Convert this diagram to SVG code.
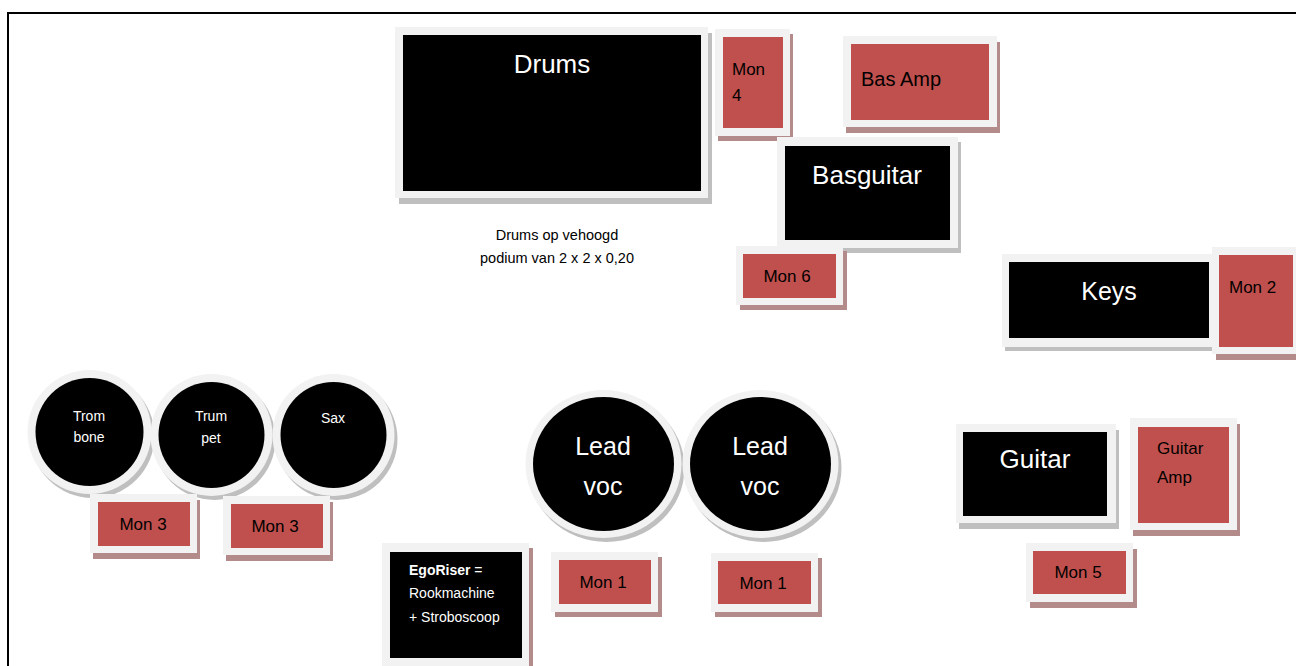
<svg xmlns="http://www.w3.org/2000/svg" width="1296" height="666" viewBox="0 0 1296 666">
<style>
.fr{fill:#f2f2f2}
.bk{fill:#000}
.rd{fill:#c0504d}
.sg{fill:#bfbfbf}
.sr{fill:#b38b8b}
text{font-family:"Liberation Sans",Arial,sans-serif}
.w{fill:#fff}
.k{fill:#000}
.c{text-anchor:middle}
</style>
<rect x="0" y="0" width="1296" height="666" fill="#fff"/>
<path d="M8,666 V13 H1296" fill="none" stroke="#000" stroke-width="2"/>
<g id="connectors"/>
<g id="drums">
<rect class="sg" x="399" y="33" width="313" height="171"/>
<rect class="fr" x="395" y="27" width="313" height="171"/>
<rect class="bk" x="403" y="35" width="298" height="156"/>
<text class="w c" x="552" y="73" font-size="26">Drums</text>
</g>
<g id="drums-note">
<text class="k c" x="557" y="240" font-size="14.5">Drums op vehoogd</text>
<text class="k c" x="557" y="263" font-size="14.5">podium van 2 x 2 x 0,20</text>
</g>
<g id="mon4">
<rect class="sr" x="718" y="34" width="75" height="107"/>
<rect class="fr" x="715" y="29" width="75" height="107"/>
<rect class="rd" x="723" y="37" width="60" height="91"/>
<text class="k" x="732" y="75" font-size="17">Mon</text>
<text class="k" x="732" y="101" font-size="17">4</text>
</g>
<g id="basamp">
<rect class="sr" x="846" y="42" width="154" height="91"/>
<rect class="fr" x="843" y="36" width="154" height="91"/>
<rect class="rd" x="851" y="44" width="138" height="76"/>
<text class="k" x="861" y="86" font-size="20">Bas Amp</text>
</g>
<g id="basguitar">
<rect class="sg" x="780" y="142" width="181" height="111"/>
<rect class="fr" x="777" y="137" width="181" height="111"/>
<rect class="bk" x="785" y="146" width="165" height="94"/>
<text class="w c" x="867" y="184" font-size="26">Basguitar</text>
</g>
<g id="mon6">
<rect class="sr" x="740" y="251" width="107" height="59"/>
<rect class="fr" x="736" y="246" width="107" height="59"/>
<rect class="rd" x="743" y="254" width="93" height="44"/>
<text class="k c" x="787" y="282" font-size="17">Mon 6</text>
</g>
<g id="keys">
<rect class="sg" x="1005" y="258" width="210" height="93"/>
<rect class="fr" x="1002" y="254" width="210" height="93"/>
<rect class="bk" x="1009" y="262" width="200" height="76"/>
<text class="w c" x="1109" y="300" font-size="25">Keys</text>
</g>
<g id="mon2">
<rect class="sr" x="1216" y="253" width="86" height="107"/>
<rect class="fr" x="1212" y="247" width="86" height="107"/>
<rect class="rd" x="1219" y="255" width="74" height="92"/>
<text class="k" x="1229" y="293" font-size="17">Mon 2</text>
</g>
<g id="trombone">
<circle class="sg" cx="92.5" cy="436" r="62"/>
<circle class="fr" cx="89.5" cy="432" r="62"/>
<circle class="bk" cx="89.5" cy="432" r="54"/>
<text class="w c" x="89" y="421" font-size="14">Trom</text>
<text class="w c" x="89" y="442" font-size="14">bone</text>
</g>
<g id="trumpet">
<circle class="sg" cx="214.5" cy="439" r="61"/>
<circle class="fr" cx="211.5" cy="435" r="61"/>
<circle class="bk" cx="211.5" cy="435" r="53"/>
<text class="w c" x="211" y="421" font-size="14">Trum</text>
<text class="w c" x="211" y="443" font-size="14">pet</text>
</g>
<g id="sax">
<circle class="sg" cx="336.5" cy="439" r="61"/>
<circle class="fr" cx="333.5" cy="435" r="61"/>
<circle class="bk" cx="333.5" cy="435" r="53"/>
<text class="w c" x="333" y="423" font-size="14">Sax</text>
</g>
<g id="mon3a">
<rect class="sr" x="93" y="500" width="107" height="59"/>
<rect class="fr" x="90" y="494" width="107" height="59"/>
<rect class="rd" x="98" y="502" width="92" height="44"/>
<text class="k c" x="143" y="530" font-size="17">Mon 3</text>
</g>
<g id="mon3b">
<rect class="sr" x="226" y="502" width="107" height="59"/>
<rect class="fr" x="223" y="496" width="107" height="59"/>
<rect class="rd" x="231" y="504" width="92" height="44"/>
<text class="k c" x="275" y="532" font-size="17">Mon 3</text>
</g>
<g id="leadvoc1">
<ellipse class="sg" cx="606.5" cy="468" rx="78" ry="74"/>
<ellipse class="fr" cx="603.5" cy="464" rx="78" ry="74"/>
<ellipse class="bk" cx="603.5" cy="464" rx="70.5" ry="67"/>
<text class="w c" x="603" y="455" font-size="25">Lead</text>
<text class="w c" x="603" y="495" font-size="25">voc</text>
</g>
<g id="leadvoc2">
<ellipse class="sg" cx="763.5" cy="468" rx="78" ry="74"/>
<ellipse class="fr" cx="760.5" cy="464" rx="78" ry="74"/>
<ellipse class="bk" cx="760.5" cy="464" rx="70.5" ry="67"/>
<text class="w c" x="760" y="455" font-size="25">Lead</text>
<text class="w c" x="760" y="495" font-size="25">voc</text>
</g>
<g id="egoriser">
<rect class="sr" x="386" y="548" width="147" height="125"/>
<rect class="fr" x="382" y="543" width="147" height="125"/>
<rect class="bk" x="390" y="552" width="132" height="106"/>
<text class="w" x="409" y="575" font-size="14"><tspan font-weight="bold">EgoRiser</tspan> =</text>
<text class="w" x="409" y="598" font-size="14">Rookmachine</text>
<text class="w" x="409" y="622" font-size="14">+ Stroboscoop</text>
</g>
<g id="mon1a">
<rect class="sr" x="555" y="557" width="107" height="60"/>
<rect class="fr" x="551" y="552" width="107" height="60"/>
<rect class="rd" x="559" y="560" width="92" height="44"/>
<text class="k c" x="603" y="588" font-size="17">Mon 1</text>
</g>
<g id="mon1b">
<rect class="sr" x="715" y="558" width="107" height="59"/>
<rect class="fr" x="711" y="553" width="107" height="59"/>
<rect class="rd" x="718" y="561" width="93" height="43"/>
<text class="k c" x="763" y="589" font-size="17">Mon 1</text>
</g>
<g id="guitar">
<rect class="sg" x="959" y="430" width="160" height="99"/>
<rect class="fr" x="956" y="424" width="160" height="99"/>
<rect class="bk" x="963" y="432" width="144" height="84"/>
<text class="w c" x="1035" y="468" font-size="26">Guitar</text>
</g>
<g id="guitaramp">
<rect class="sr" x="1133" y="424" width="107" height="112"/>
<rect class="fr" x="1130" y="418" width="107" height="112"/>
<rect class="rd" x="1138" y="427" width="91" height="96"/>
<text class="k" x="1157" y="454" font-size="17">Guitar</text>
<text class="k" x="1157" y="483" font-size="17">Amp</text>
</g>
<g id="mon5">
<rect class="sr" x="1030" y="549" width="107" height="59"/>
<rect class="fr" x="1026" y="543" width="107" height="59"/>
<rect class="rd" x="1033" y="551" width="93" height="43"/>
<text class="k c" x="1078" y="578" font-size="17">Mon 5</text>
</g>
</svg>
